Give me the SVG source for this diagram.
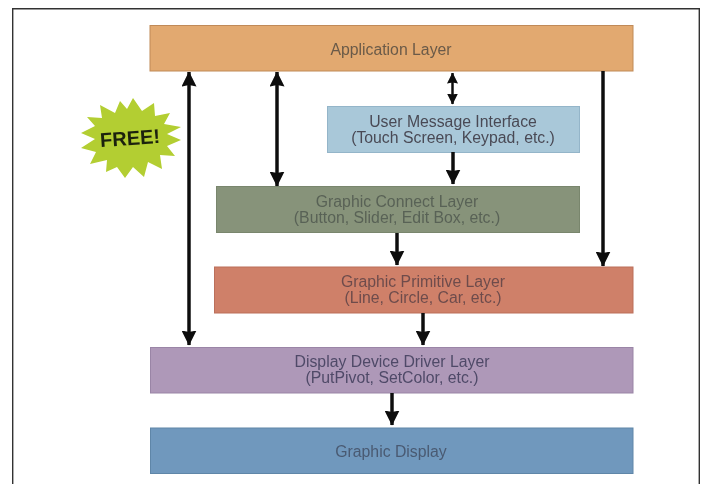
<svg xmlns="http://www.w3.org/2000/svg" width="704" height="484" viewBox="0 0 704 484">
<style>
.lbl{font-family:"Liberation Sans",Arial,sans-serif;font-size:15.800px;text-anchor:middle;fill:#4a4a55}
.box{stroke-width:1}
.wire{stroke:#0c0c0c;stroke-width:3.500;fill:none}
.thin{stroke:#0c0c0c;stroke-width:2.500;fill:none}
</style>
<defs>
<filter id="soft" x="0" y="0" width="100%" height="100%"><feGaussianBlur stdDeviation="0.5"/></filter>
<marker id="ah" viewBox="0 0 15 15" refX="14.500" refY="7.500" markerWidth="15" markerHeight="15" markerUnits="userSpaceOnUse" orient="auto-start-reverse"><path d="M0 0L15 7.500L0 15L1.500 7.500Z" fill="#0c0c0c"/></marker>
<marker id="ahs" viewBox="0 0 11 11" refX="10.500" refY="5.500" markerWidth="11" markerHeight="11" markerUnits="userSpaceOnUse" orient="auto-start-reverse"><path d="M0 0L11 5.500L0 11L1 5.500Z" fill="#0c0c0c"/></marker>
</defs>
<rect width="704" height="484" fill="#fff"/>
<g filter="url(#soft)">
<path id="frame" d="M12.500 484V8.500H699.500V484" fill="none" stroke="#333" stroke-width="1.800"/>
<g id="application-layer"><rect class="box" x="150" y="25.500" width="483" height="45.500" fill="#e2a970" stroke="#c08a58"/><text class="lbl" x="391" y="55" style="fill:#6a5a48">Application Layer</text></g>
<g id="user-message-interface"><rect class="box" x="327.500" y="106.500" width="252" height="46" fill="#a9c8d9" stroke="#94b5c9"/><text class="lbl" x="453" y="126.500">User Message Interface</text><text class="lbl" x="453" y="143">(Touch Screen, Keypad, etc.)</text></g>
<g id="graphic-connect-layer"><rect class="box" x="216.500" y="186.500" width="363" height="46" fill="#87937a" stroke="#79866d"/><text class="lbl" x="397" y="206.500" style="fill:#596256">Graphic Connect Layer</text><text class="lbl" x="397" y="223" style="fill:#596256">(Button, Slider, Edit Box, etc.)</text></g>
<g id="graphic-primitive-layer"><rect class="box" x="214.500" y="267" width="418.500" height="46" fill="#cf8069" stroke="#bb6f5b"/><text class="lbl" x="423" y="286.500" style="fill:#6e4c4c">Graphic Primitive Layer</text><text class="lbl" x="423" y="303" style="fill:#6e4c4c">(Line, Circle, Car, etc.)</text></g>
<g id="display-device-driver-layer"><rect class="box" x="150.500" y="347.500" width="482.500" height="45.500" fill="#ae98b8" stroke="#9a85a6"/><text class="lbl" x="392" y="366.500" style="fill:#4f4a68">Display Device Driver Layer</text><text class="lbl" x="392" y="383" style="fill:#4f4a68">(PutPivot, SetColor, etc.)</text></g>
<g id="graphic-display"><rect class="box" x="150.500" y="428" width="482.500" height="45.500" fill="#7098bd" stroke="#5f86a8"/><text class="lbl" x="391" y="456.500" style="fill:#4a5a72">Graphic Display</text></g>
<g id="free-badge"><path fill="#b3ce30" d="M133 98L142 111L154 103L155 116L170 113L164 124L181 127L167 134L181 140L167 146L175 156L160 155L162 169L148 162L144 177L133 167L125 178L117 167L106 172L107 160L90 164L96 152L81 148L95 139L81 133L95 126L87 117L102 118L100 105L115 113L120 101L127 109Z"/><text x="130" y="145" transform="rotate(-4 130 138)" font-family="'Liberation Sans',sans-serif" font-size="20" font-weight="700" text-anchor="middle" fill="#1d2410">FREE!</text></g>
<g id="connectors">
<path class="wire" d="M189 72V345" marker-start="url(#ah)" marker-end="url(#ah)"/>
<path class="wire" d="M277 72V186" marker-start="url(#ah)" marker-end="url(#ah)"/>
<path class="thin" d="M452.500 73V104" marker-start="url(#ahs)" marker-end="url(#ahs)"/>
<path class="wire" d="M453 152V184" marker-end="url(#ah)"/>
<path class="wire" d="M397 233V265" marker-end="url(#ah)"/>
<path class="wire" d="M603 71V266" marker-end="url(#ah)"/>
<path class="wire" d="M423 313V345" marker-end="url(#ah)"/>
<path class="wire" d="M392 393V425" marker-end="url(#ah)"/>
</g>
</g>
</svg>
